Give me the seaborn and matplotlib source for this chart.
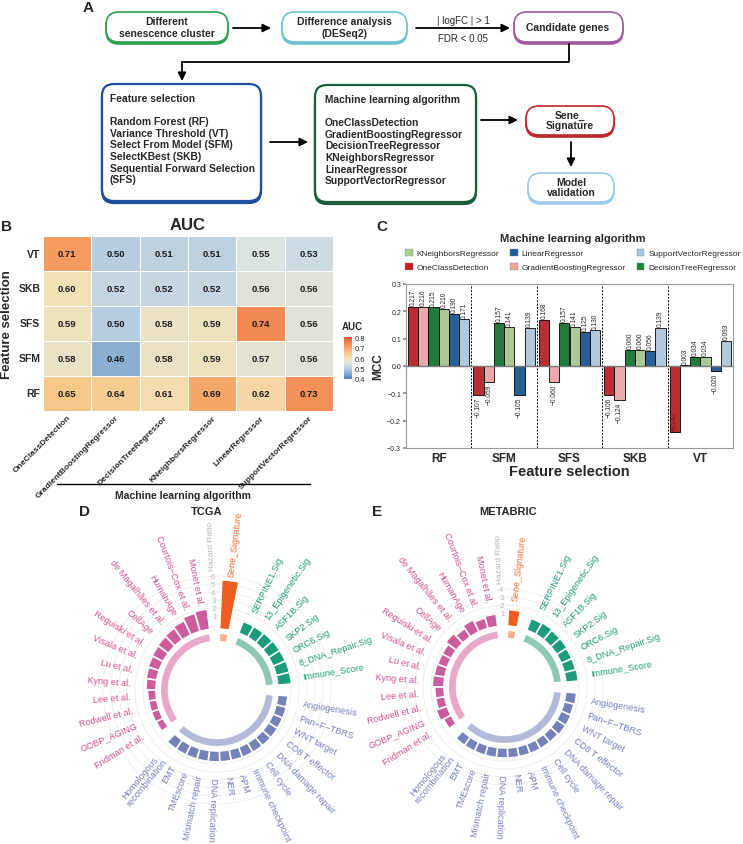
import numpy as np
import pandas as pd
import matplotlib
matplotlib.use('Agg')
import matplotlib.pyplot as plt
import seaborn as sns
from matplotlib.colors import LinearSegmentedColormap
from matplotlib.patches import FancyBboxPatch, Patch

W, H = 743, 845

# ---------------- panel B: AUC heatmap ----------------
fs_rows = ['VT', 'SKB', 'SFS', 'SFM', 'RF']
ml_algos = ['OneClassDetection', 'GradientBoostingRegressor', 'DecisionTreeRegressor',
            'KNeighborsRegressor', 'LinearRegressor', 'SupportVectorRegressor']
auc_vt = [0.71, 0.50, 0.51, 0.51, 0.55, 0.53]
auc_skb = [0.60, 0.52, 0.52, 0.52, 0.56, 0.56]
auc_sfs = [0.59, 0.50, 0.58, 0.59, 0.74, 0.56]
auc_sfm = [0.58, 0.46, 0.58, 0.59, 0.57, 0.56]
auc_rf = [0.65, 0.64, 0.61, 0.69, 0.62, 0.73]

# ---------------- panel C: MCC bars ----------------
fs_groups = ['RF', 'SFM', 'SFS', 'SKB', 'VT']
mcc_oneclass = [0.217, -0.107, 0.168, -0.106, -0.243]
mcc_gradient = [0.216, -0.059, -0.060, -0.124, 0.003]
mcc_dtree = [0.215, 0.157, 0.157, 0.060, 0.034]
mcc_knn = [0.210, 0.141, 0.141, 0.060, 0.034]
mcc_linear = [0.190, -0.105, 0.125, 0.056, -0.020]
mcc_svr = [0.171, 0.139, 0.130, 0.139, 0.093]
algo_colors = ['#D0161F', '#F5A09E', '#138A36', '#A9D08E', '#1660A8', '#A9C9E0']

# ---------------- panels D/E: hazard ratio rings ----------------
sene_labels = ['Sene_Signature']
green_labels = ['SERPINE1.Sig', '13_Epigenetic.Sig', 'ASF1B.Sig', 'SKP2.Sig',
                'ORC6.Sig', '8_DNA_Repair.Sig', 'Immune_Score']
blue_labels = ['Angiogenesis', 'Pan\u2212F\u2212TBRS', 'WNT target', 'CD8 T effector',
               'DNA damage repair', 'Cell cycle', 'Immune checkpoint', 'APM', 'NER',
               'DNA replication', 'Mismatch repair', 'TMEscore', 'EMT',
               'Homologous\nrecombination']
pink_labels = ['Fridman et al.', 'GOBP_AGING', 'Rodwell et al.', 'Lee et al.', 'Kyng et al.',
               'Lu et al.', 'Visala et al.', 'Reguiski et al.', 'CellAge',
               'de Magalh\u00e3es et al.', 'HumanAge', 'Courtois\u2212Cox et al.', 'Monet et al.']

tcga_sene = [5.5]
tcga_green = [0.9, 0.9, 0.95, 1.0, 1.0, 1.05, 1.05]
tcga_blue = [0.6, 0.65, 0.65, 0.7, 0.7, 0.7, 0.7, 0.7, 0.7, 0.7, 0.7, 0.7, 0.7, 0.7]
tcga_pink = [0.3, 0.35, 0.35, 0.4, 0.6, 0.7, 0.8, 0.9, 1.0, 1.1, 1.3, 1.7, 1.9]
tcga_ticks = [1, 2, 3, 4, 5, 6]

metabric_sene = [1.4]
metabric_green = [0.9, 1.0, 0.9, 0.9, 0.8, 0.8, 0.9]
metabric_blue = [0.7, 0.6, 0.7, 0.7, 0.6, 0.6, 0.6, 0.6, 0.6, 0.6, 0.6, 0.6, 0.6, 0.6]
metabric_pink = [0.4, 0.8, 0.5, 0.5, 0.8, 0.7, 0.6, 0.6, 1.0, 0.6, 1.0, 0.7, 0.9]
metabric_ticks = [1, 2, 3, 4]

ring_colors = {
    'sene': ('#EE5E1E', '#F7AE8A', '#EE6A2A'),
    'green': ('#1B9C7A', '#8FC9B5', '#1F9C79'),
    'blue': ('#7581B9', '#B3B9D8', '#7680B8'),
    'pink': ('#CD5C9C', '#E9A8C8', '#D1508F'),
}

sns.set_theme(style='white')
plt.rcParams['font.family'] = ['Liberation Sans', 'DejaVu Sans']
plt.rcParams['axes.unicode_minus'] = True


def frac(x0, y0, x1, y1):
    return [x0 / W, 1 - y1 / H, (x1 - x0) / W, (y1 - y0) / H]


fig = plt.figure(figsize=(W / 100, H / 100), dpi=100)
fig.patch.set_facecolor('white')

# overlay axes in pixel units for the flowchart and decorations
ax0 = fig.add_axes([0, 0, 1, 1])
ax0.set_xlim(0, W)
ax0.set_ylim(H, 0)
ax0.axis('off')


def box(x0, y0, x1, y1, color, rad, lw=1.2):
    shadow = FancyBboxPatch((x0, y0 + 2), x1 - x0, y1 - y0,
                            boxstyle=f'round,pad=0,rounding_size={rad}',
                            fc=color, ec=color, lw=lw)
    main = FancyBboxPatch((x0, y0), x1 - x0, y1 - y0,
                          boxstyle=f'round,pad=0,rounding_size={rad}',
                          fc='white', ec=color, lw=lw)
    ax0.add_patch(shadow)
    ax0.add_patch(main)


def arrow(x0, y0, x1, y1):
    ax0.annotate('', xy=(x1, y1), xytext=(x0, y0),
                 arrowprops=dict(arrowstyle='-|>', color='black', lw=1.3,
                                 mutation_scale=12, shrinkA=0, shrinkB=0))


# ---- panel A ----
ax0.text(88, 8, 'A', fontsize=11, weight='bold', va='center', ha='center')
box(106, 13, 228, 43, '#2E9E4F', 13)
ax0.text(167, 28, 'Different\nsenescence cluster', ha='center', va='center',
         fontsize=7.5, weight='bold', linespacing=1.15)
box(282, 13, 407, 43, '#6CC3CE', 13)
ax0.text(344, 28, 'Difference analysis\n(DESeq2)', ha='center', va='center',
         fontsize=7.5, weight='bold', linespacing=1.15)
box(514, 13, 623, 43, '#A25A9E', 13)
ax0.text(568, 28, 'Candidate genes', ha='center', va='center', fontsize=7.5, weight='bold')
arrow(233, 29, 271, 29)
arrow(416, 29, 510, 29)
ax0.text(463, 21, '| logFC | > 1', ha='center', va='center', fontsize=7)
ax0.text(463, 39, 'FDR < 0.05', ha='center', va='center', fontsize=7)
ax0.plot([569, 569, 182], [45, 63, 63], color='black', lw=1.3)
arrow(182, 63, 182, 82)

box(102, 85, 261, 202, '#1F4E9E', 12, lw=1.6)
ax0.text(110, 94, 'Feature selection\n\nRandom Forest (RF)\nVariance Threshold (VT)\n'
         'Select From Model (SFM)\nSelectKBest (SKB)\nSequential Forward Selection\n(SFS)',
         ha='left', va='top', fontsize=7.4, weight='bold', linespacing=1.2)
box(315, 86, 476, 203, '#1B5E3B', 12, lw=1.6)
ax0.text(325, 95, 'Machine learning algorithm\n\nOneClassDetection\nGradientBoostingRegressor\n'
         'DecisionTreeRegressor\nKNeighborsRegressor\nLinearRegressor\nSupportVectorRegressor',
         ha='left', va='top', fontsize=7.4, weight='bold', linespacing=1.2)
arrow(270, 143, 308, 143)
arrow(481, 121, 518, 121)
box(526, 107, 614, 136, '#C0272D', 13)
ax0.text(570, 121, 'Sene_\nSignature', ha='center', va='center', fontsize=7.5,
         weight='bold', linespacing=1.1)
arrow(571, 143, 571, 168)
box(528, 174, 614, 203, '#9CCBE8', 13)
ax0.text(571, 188, 'Model\nvalidation', ha='center', va='center', fontsize=7.5,
         weight='bold', linespacing=1.1)

# ---- panel B ----
auc = pd.DataFrame([auc_vt, auc_skb, auc_sfs, auc_sfm, auc_rf], index=fs_rows, columns=ml_algos)
auc_cmap = LinearSegmentedColormap.from_list('auc', [
    (0.0, '#4A84C2'), (0.15, '#8EB0D0'), (0.25, '#B6CDE1'), (0.375, '#DCE4E2'),
    (0.5, '#F3E0B5'), (0.625, '#F7C78A'), (0.75, '#F6A164'), (0.875, '#F2844F'),
    (1.0, '#E5533A')])
ax_b = fig.add_axes(frac(43, 237, 333, 412))
cax = fig.add_axes(frac(344, 338, 352, 380))
sns.heatmap(auc, ax=ax_b, cmap=auc_cmap, vmin=0.4, vmax=0.8, annot=True, fmt='.2f',
            annot_kws=dict(size=6.8, weight='bold', color='#1a1a1a'),
            linewidths=0.7, linecolor='white', cbar_ax=cax)
ax_b.set_xlabel('')
ax_b.set_ylabel('Feature selection', fontsize=9.5, weight='bold', labelpad=4)
ax_b.tick_params(length=0, pad=2)
ax_b.set_yticklabels(ax_b.get_yticklabels(), rotation=0, fontsize=7.5, weight='bold')
ax_b.set_xticklabels(ax_b.get_xticklabels(), rotation=45, ha='right', rotation_mode='anchor',
                     fontsize=6, weight='bold')
ax_b.set_title('AUC', fontsize=12, weight='bold', pad=5)
cbar = ax_b.collections[0].colorbar
cbar.set_ticks([0.4, 0.5, 0.6, 0.7, 0.8])
cbar.outline.set_visible(False)
cax.tick_params(labelsize=5.5, length=0, pad=2)
ax0.text(342, 327, 'AUC', fontsize=7, weight='bold', ha='left', va='center')
ax0.text(6, 227, 'B', fontsize=11, weight='bold', va='center', ha='center')
ax0.plot([57, 310], [485, 485], color='black', lw=1.0)
ax0.text(183, 496, 'Machine learning algorithm', ha='center', va='center',
         fontsize=7.5, weight='bold')

# ---- panel C ----
mcc = pd.DataFrame({
    'feature': fs_groups * 6,
    'algo': np.repeat(ml_algos, len(fs_groups)),
    'mcc': mcc_oneclass + mcc_gradient + mcc_dtree + mcc_knn + mcc_linear + mcc_svr,
})
ax_c = fig.add_axes(frac(406, 285, 733, 449))
sns.barplot(data=mcc, x='feature', y='mcc', hue='algo', order=fs_groups, hue_order=ml_algos,
            palette=dict(zip(ml_algos, algo_colors)), edgecolor='black', linewidth=0.6,
            width=0.94, errorbar=None, legend=False, ax=ax_c)
for cont in ax_c.containers:
    for bar in cont:
        v = bar.get_height()
        xc = bar.get_x() + bar.get_width() / 2
        txt = f'{v:.3f}'.replace('-', '\u2212')
        if v >= 0:
            ax_c.text(xc, v + 0.006, txt, rotation=90, ha='center', va='bottom', fontsize=4.8)
        elif v < -0.2:
            ax_c.text(xc, v + 0.006, txt, rotation=90, ha='center', va='bottom', fontsize=4.8,
                      color='#8A0F14')
        else:
            ax_c.text(xc, v - 0.006, txt, rotation=90, ha='center', va='top', fontsize=4.8)
for xv in np.arange(len(fs_groups) - 1) + 0.5:
    ax_c.axvline(xv, color='black', lw=0.7, ls=(0, (2, 1.5)))
ax_c.axhline(0, color='#777777', lw=1.0)
ax_c.set_ylim(-0.3, 0.3)
ax_c.set_xlim(-0.5, len(fs_groups) - 0.5)
yt = [-0.3, -0.2, -0.1, 0.0, 0.1, 0.2, 0.3]
ax_c.set_yticks(yt)
ax_c.set_yticklabels([f'{t:.1f}'.replace('-', '\u2212') for t in yt], fontsize=5)
ax_c.tick_params(axis='y', length=2, pad=1.5, color='#888888', left=True)
ax_c.tick_params(axis='x', length=0, pad=3)
ax_c.set_xticks(range(len(fs_groups)))
ax_c.set_xticklabels(fs_groups, fontsize=8.5, weight='bold')
ax_c.set_xlabel('Feature selection', fontsize=10.5, weight='bold', labelpad=0)
ax_c.set_ylabel('MCC', fontsize=8.5, weight='bold', labelpad=2)
for sp in ax_c.spines.values():
    sp.set_color('#999999')
    sp.set_linewidth(0.8)
leg_order = [3, 0, 4, 1, 5, 2]
handles = [Patch(facecolor=algo_colors[i], edgecolor='#888888', linewidth=0.3) for i in leg_order]
fig.legend(handles, [ml_algos[i] for i in leg_order], ncol=3, frameon=False,
           loc='upper left', bbox_to_anchor=(400 / W, 1 - 229 / H),
           title='Machine learning algorithm',
           title_fontproperties={'weight': 'bold', 'size': 8},
           fontsize=6, handlelength=0.9, handleheight=0.9, handletextpad=0.5,
           columnspacing=1.3, labelspacing=0.7, borderaxespad=0.2)
ax0.text(382, 227, 'C', fontsize=11, weight='bold', va='center', ha='center')

# ---- panels D / E ----
PX_PER_HR = 8.0
R_ORIGIN = -8.25
BAR_BASE = -0.6
START = 7.0


def draw_ring(cx, cy, ticks, sene, green, blue, pink):
    rmax = ticks[-1] + 0.6
    R = PX_PER_HR * (rmax - R_ORIGIN)
    ax = fig.add_axes(frac(cx - R, cy - R, cx + R, cy + R), projection='polar')
    ax.set_theta_zero_location('N')
    ax.set_theta_direction(-1)
    ax.set_ylim(-2.2, rmax)
    ax.set_rorigin(R_ORIGIN)
    ax.set_xticks([])
    ax.set_yticks(ticks)
    ax.set_yticklabels([])
    ax.yaxis.grid(True, color='#EDEDED', lw=0.6)
    ax.xaxis.grid(False)
    ax.set_frame_on(False)
    ax.patch.set_visible(False)
    for sp in ax.spines.values():
        sp.set_visible(False)
    groups = [(sene_labels, sene, ring_colors['sene']),
              (green_labels, green, ring_colors['green']),
              (blue_labels, blue, ring_colors['blue']),
              (pink_labels, pink, ring_colors['pink'])]
    n_slots = sum(len(g[0]) for g in groups) + len(groups)
    step = 360.0 / n_slots
    slot = 0
    for labels, vals, (bar_c, arc_c, txt_c) in groups:
        idx = np.arange(len(labels)) + slot
        theta_deg = START + idx * step
        vals = np.asarray(vals)
        ax.bar(np.deg2rad(theta_deg), vals - BAR_BASE, bottom=BAR_BASE,
               width=np.deg2rad(step) * 0.94, color=bar_c, edgecolor='white',
               linewidth=0.8, zorder=3)
        mid = START + (slot + (len(labels) - 1) / 2) * step
        arc_w = step * len(labels) - step * 0.25
        ax.bar(np.deg2rad(mid), 0.85, bottom=-2.1, width=np.deg2rad(arc_w),
               color=arc_c, linewidth=0, zorder=2)
        for td, lab, v in zip(theta_deg, labels, vals):
            r_lab = max(v + 0.6, 2.6)
            phi = 90 - td
            if td <= 185:
                rot, ha = phi, 'left'
            else:
                rot, ha = phi + 180, 'right'
            ax.text(np.deg2rad(td), r_lab, lab, rotation=rot, ha=ha, va='center',
                    rotation_mode='anchor', fontsize=6.6, color=txt_c,
                    multialignment='center', linespacing=0.95)
        slot += len(labels) + 1
    gap_deg = START - step
    for t in ticks:
        ax.text(np.deg2rad(gap_deg), t, str(t), ha='center', va='center',
                fontsize=5.5, color='#B5B5B5')
    ax.text(np.deg2rad(gap_deg), ticks[-1] + 0.8, 'Hazard Ratio', rotation=90 - gap_deg,
            ha='left', va='center', rotation_mode='anchor', fontsize=6, color='#B5B5B5')
    return ax


draw_ring(217, 691, tcga_ticks, tcga_sene, tcga_green, tcga_blue, tcga_pink)
draw_ring(505, 688, metabric_ticks, metabric_sene, metabric_green, metabric_blue, metabric_pink)
ax0.text(85, 512, 'D', fontsize=11, weight='bold', va='center', ha='center')
ax0.text(207, 512, 'TCGA', fontsize=8, weight='bold', va='center', ha='center')
ax0.text(377, 512, 'E', fontsize=11, weight='bold', va='center', ha='center')
ax0.text(508, 512, 'METABRIC', fontsize=8, weight='bold', va='center', ha='center')

fig.savefig('out.png', dpi=100)
